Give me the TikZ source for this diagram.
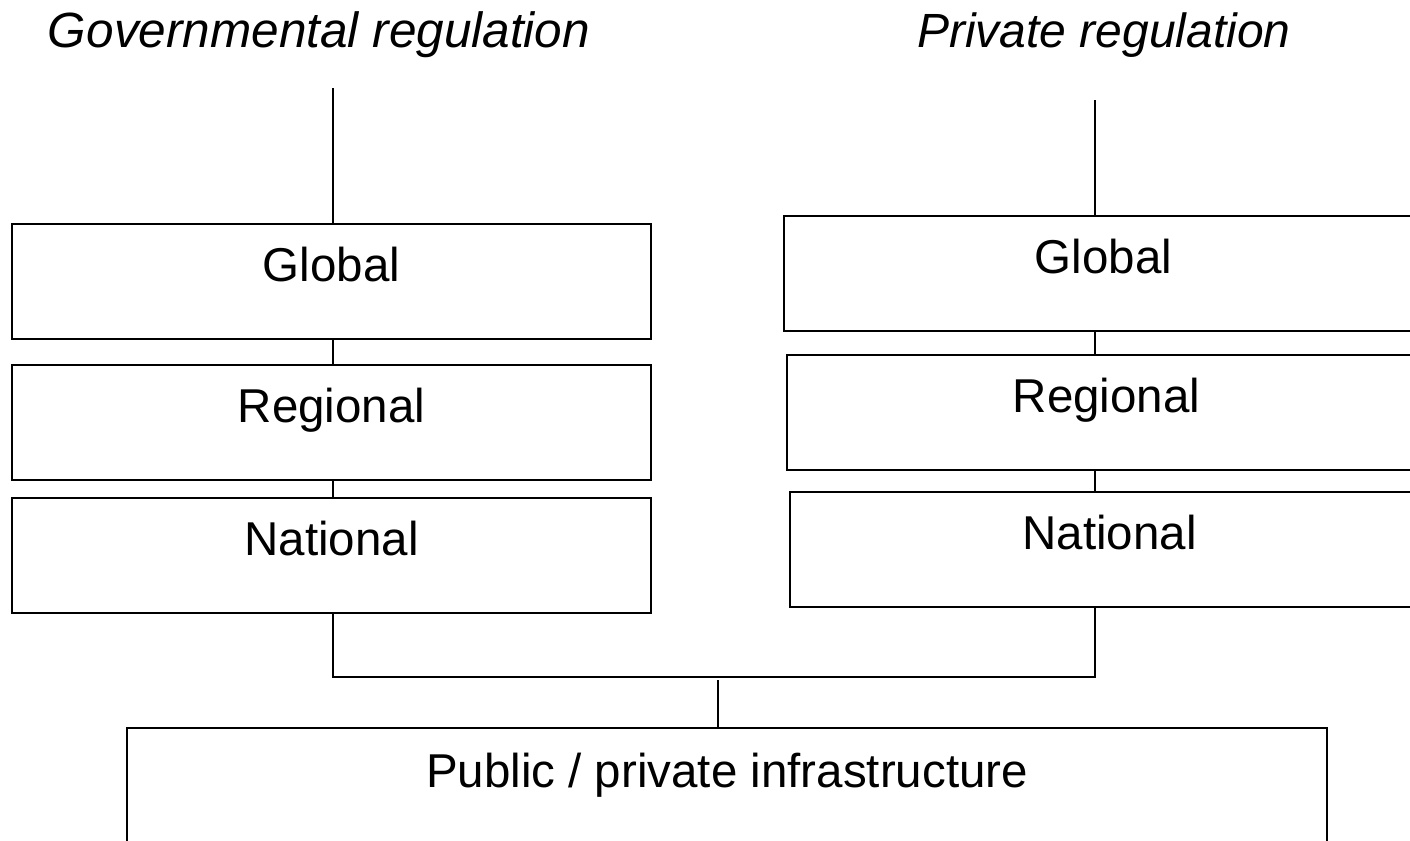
\documentclass[tikz,border=0pt]{standalone}
\usepackage{fontspec}
\setmainfont{Liberation Sans}
\usetikzlibrary{positioning}
\tikzset{
  tier/.style={draw, line width=1pt, minimum width=319.5pt, inner sep=0pt,
    text height=28.75pt, text depth=28.75pt, font=\fontsize{23.75}{28}\selectfont},
  base/.style={draw, line width=1pt, minimum width=600pt, inner sep=0pt,
    text height=29.5pt, text depth=29.5pt, font=\fontsize{23.75}{28}\selectfont},
  heading/.style={anchor=base, inner sep=0pt, font=\fontsize{24.75}{30}\itshape},
  link/.style={line width=1pt}
}
\begin{document}
\begin{tikzpicture}[x=0.5pt, y=-0.5pt]
  \useasboundingbox (0,0) rectangle (1410,841);
  \node[heading] (govtitle) at (319,47) {Governmental regulation};
  \node[heading, font=\fontsize{24}{30}\itshape] (privtitle) at (1104,47) {Private regulation};

  \node[tier] (lglobal) at (331.5,281.5) {Global};
  \node[tier] (lregional) at (331.5,422) {Regional};
  \node[tier] (lnational) at (331.5,555.5) {National};

  \node[tier] (rglobal) at (1103.5,273) {Global};
  \node[tier] (rregional) at (1106.5,412.5) {Regional};
  \node[tier] (rnational) at (1109.5,549) {National};

  \node[base] (infra) at (727,787) {Public / private infrastructure};

  \coordinate (ltop) at (333,88);
  \coordinate (rtop) at (1095,100);
  \coordinate (ljoin) at (333,677);
  \coordinate (rjoin) at (1095,677);
  \coordinate (mjoin) at (718,680);

  \draw[link] (ltop) -- (lglobal.north -| ltop);
  \draw[link] (lglobal.south -| ltop) -- (lregional.north -| ltop);
  \draw[link] (lregional.south -| ltop) -- (lnational.north -| ltop);
  \draw[link] (lnational.south -| ltop) -- (ljoin) -- (rjoin) -- (rnational.south -| rjoin);

  \draw[link] (rtop) -- (rglobal.north -| rtop);
  \draw[link] (rglobal.south -| rtop) -- (rregional.north -| rtop);
  \draw[link] (rregional.south -| rtop) -- (rnational.north -| rtop);

  \draw[link] (mjoin) -- (infra.north -| mjoin);
\end{tikzpicture}
\end{document}
